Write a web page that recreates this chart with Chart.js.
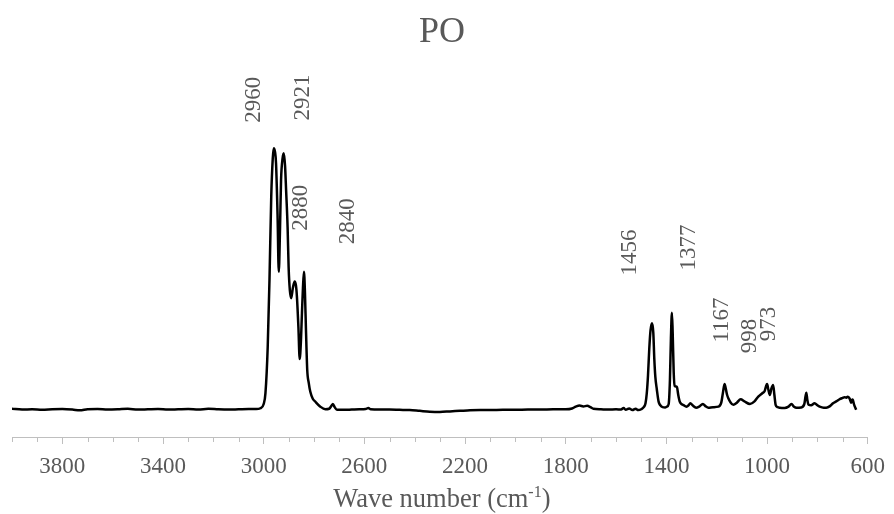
<!DOCTYPE html>
<html>
<head>
<meta charset="utf-8">
<script src="https://cdn.jsdelivr.net/npm/chart.js@4.4.1/dist/chart.umd.min.js"></script>
<style>
  html, body { margin: 0; padding: 0; background: #ffffff; }
  #wrap { width: 894px; height: 514px; }
</style>
</head>
<body>
<div id="wrap"><canvas id="c" width="894" height="514"></canvas></div>
<script>
// ---- data ----
const wavenumbers = [4000,3960,3920,3880,3840,3800,3760,3731,3700,3660,3620,3580,3540,3500,3460,3420,3380,3340,3300,3260,3220,3180,3140,3100,3060,3030,3013,3000,2993,2984,2977,2970,2964,2960,2955,2951,2945,2940,2935,2931,2925,2920,2915,2911,2905,2901,2896,2891,2884,2877,2872,2868,2862,2857,2852,2848,2844,2840,2836,2832,2827,2821,2815,2805,2795,2775,2755,2740,2730,2725,2718,2709,2680,2650,2620,2595,2584,2575,2540,2500,2460,2420,2380,2340,2300,2260,2220,2180,2140,2100,2050,2000,1950,1900,1850,1800,1775,1760,1745,1730,1715,1700,1690,1660,1630,1600,1580,1570,1562,1548,1535,1522,1512,1500,1490,1483,1478,1473,1468,1463,1457,1452,1448,1444,1438,1431,1424,1415,1405,1398,1391,1386,1382,1378,1375,1371,1367,1362,1358,1353,1347,1340,1334,1320,1312,1305,1295,1282,1270,1255,1245,1233,1215,1193,1182,1175,1169,1164,1159,1154,1145,1134,1120,1105,1090,1068,1050,1035,1019,1010,1004,1000,995,989,983,976,971,966,958,950,930,915,903,893,883,865,852,847,844,840,835,825,811,800,791,775,765,750,738,725,712,700,692,685,680,673,668,666,662,659,655,646];
const absorbance = [0.012,0.009,0.010,0.008,0.010,0.011,0.009,0.006,0.010,0.011,0.009,0.010,0.012,0.009,0.010,0.011,0.009,0.010,0.011,0.009,0.012,0.010,0.009,0.010,0.011,0.011,0.014,0.030,0.071,0.247,0.500,0.816,0.960,0.999,0.985,0.942,0.750,0.531,0.700,0.879,0.960,0.980,0.930,0.841,0.700,0.550,0.460,0.431,0.470,0.494,0.480,0.437,0.320,0.200,0.270,0.374,0.470,0.531,0.450,0.310,0.159,0.110,0.077,0.050,0.039,0.020,0.010,0.012,0.024,0.030,0.018,0.008,0.008,0.009,0.010,0.011,0.015,0.010,0.009,0.009,0.008,0.007,0.004,0.001,0.000,0.002,0.004,0.006,0.007,0.007,0.008,0.008,0.009,0.009,0.010,0.010,0.013,0.020,0.024,0.021,0.023,0.017,0.012,0.010,0.009,0.010,0.009,0.015,0.008,0.013,0.007,0.012,0.007,0.010,0.018,0.033,0.070,0.140,0.240,0.310,0.336,0.300,0.200,0.134,0.085,0.039,0.025,0.018,0.017,0.020,0.030,0.120,0.280,0.376,0.300,0.150,0.098,0.096,0.094,0.065,0.039,0.030,0.027,0.020,0.025,0.033,0.024,0.016,0.020,0.030,0.022,0.016,0.018,0.020,0.035,0.075,0.106,0.088,0.065,0.052,0.036,0.027,0.035,0.048,0.040,0.030,0.040,0.058,0.071,0.078,0.098,0.106,0.085,0.064,0.088,0.102,0.065,0.027,0.018,0.016,0.015,0.020,0.030,0.020,0.016,0.017,0.030,0.060,0.073,0.045,0.027,0.025,0.033,0.025,0.020,0.016,0.016,0.022,0.033,0.040,0.048,0.053,0.056,0.054,0.057,0.052,0.040,0.035,0.047,0.045,0.030,0.008];

const tickLabels = [3800, 3400, 3000, 2600, 2200, 1800, 1400, 1000, 600];

// peak annotations: text and anchor (wavenumber, absorbance units)
const peakLabels  = ['2960', '2921', '2880', '2840', '1456', '1377', '1167', '998', '973'];
const peakLabelWn = [3039, 2845, 2853, 2667, 1544, 1311, 1180, 1069, 994];
const peakLabelY  = [1.182, 1.191, 0.773, 0.722, 0.604, 0.623, 0.348, 0.288, 0.333];

const chartTitle = 'PO';
const axisTitleMain = 'Wave number (cm';
const axisTitleSup = '-1';
const axisTitleEnd = ')';

// ---- build ----
const points = wavenumbers.map((w, i) => ({ x: w, y: absorbance[i] }));
const SERIF = '"Liberation Serif", "Times New Roman", serif';
const GREY = '#595959';
const AXIS_GREY = '#bfbfbf';

const extrasPlugin = {
  id: 'extras',
  afterDraw(chart) {
    const ctx = chart.ctx;
    const xs = chart.scales.x, ys = chart.scales.y;
    // minor ticks (shorter)
    ctx.save();
    ctx.strokeStyle = AXIS_GREY;
    ctx.lineWidth = 1;
    xs.ticks.forEach(t => {
      if (tickLabels.indexOf(t.value) === -1) {
        const px = Math.round(xs.getPixelForValue(t.value)) + 0.5;
        ctx.beginPath();
        ctx.moveTo(px, xs.top);
        ctx.lineTo(px, xs.top + 5);
        ctx.stroke();
      }
    });
    ctx.restore();

    // peak labels, rotated
    ctx.save();
    ctx.fillStyle = GREY;
    ctx.font = '23px ' + SERIF;
    ctx.textAlign = 'center';
    ctx.textBaseline = 'middle';
    peakLabels.forEach((txt, i) => {
      const px = xs.getPixelForValue(peakLabelWn[i]);
      const py = ys.getPixelForValue(peakLabelY[i]);
      ctx.save();
      ctx.translate(px, py);
      ctx.rotate(-Math.PI / 2);
      ctx.fillText(txt, 0, 0);
      ctx.restore();
    });
    ctx.restore();

    // axis title with superscript
    ctx.save();
    ctx.fillStyle = GREY;
    ctx.textBaseline = 'alphabetic';
    ctx.textAlign = 'left';
    const mainFont = '26.5px ' + SERIF;
    const supFont = '16px ' + SERIF;
    ctx.font = mainFont;
    const w1 = ctx.measureText(axisTitleMain).width;
    const w3 = ctx.measureText(axisTitleEnd).width;
    ctx.font = supFont;
    const w2 = ctx.measureText(axisTitleSup).width;
    const total = w1 + w2 + w3;
    const cx = (chart.chartArea.left + chart.chartArea.right) / 2 + 2;
    const baseY = 507;
    let x0 = cx - total / 2;
    ctx.font = mainFont;
    ctx.fillText(axisTitleMain, x0, baseY);
    ctx.font = supFont;
    ctx.fillText(axisTitleSup, x0 + w1, baseY - 10);
    ctx.font = mainFont;
    ctx.fillText(axisTitleEnd, x0 + w1 + w2, baseY);
    ctx.restore();
  }
};

new Chart(document.getElementById('c'), {
  type: 'line',
  data: {
    datasets: [{
      data: points,
      borderColor: '#000000',
      borderWidth: 2.5,
      pointRadius: 0,
      fill: false,
      tension: 0,
      cubicInterpolationMode: 'monotone'
    }]
  },
  options: {
    responsive: false,
    animation: false,
    events: [],
    layout: { padding: { left: 12, right: 22, top: 0.8, bottom: 0 } },
    plugins: {
      legend: { display: false },
      tooltip: { enabled: false },
      title: {
        display: true,
        text: chartTitle,
        color: GREY,
        font: { family: SERIF, size: 36, weight: 'normal' },
        padding: { top: 10, bottom: 6 }
      }
    },
    scales: {
      x: {
        type: 'linear',
        reverse: true,
        min: 600,
        max: 4000,
        afterFit(scale) { scale.height = 77; },
        border: { display: true, color: AXIS_GREY, width: 1 },
        grid: {
          display: true,
          drawOnChartArea: false,
          drawTicks: true,
          tickLength: 7,
          tickColor: (c) => (c.tick && tickLabels.indexOf(c.tick.value) !== -1) ? AXIS_GREY : 'rgba(0,0,0,0)'
        },
        ticks: {
          stepSize: 100,
          autoSkip: false,
          maxRotation: 0,
          minRotation: 0,
          padding: 9,
          color: GREY,
          font: { family: SERIF, size: 23 },
          callback: (v) => tickLabels.indexOf(v) !== -1 ? String(v) : ''
        }
      },
      y: {
        display: false,
        min: -0.095,
        max: 1.333
      }
    }
  },
  plugins: [extrasPlugin]
});
</script>
</body>
</html>
